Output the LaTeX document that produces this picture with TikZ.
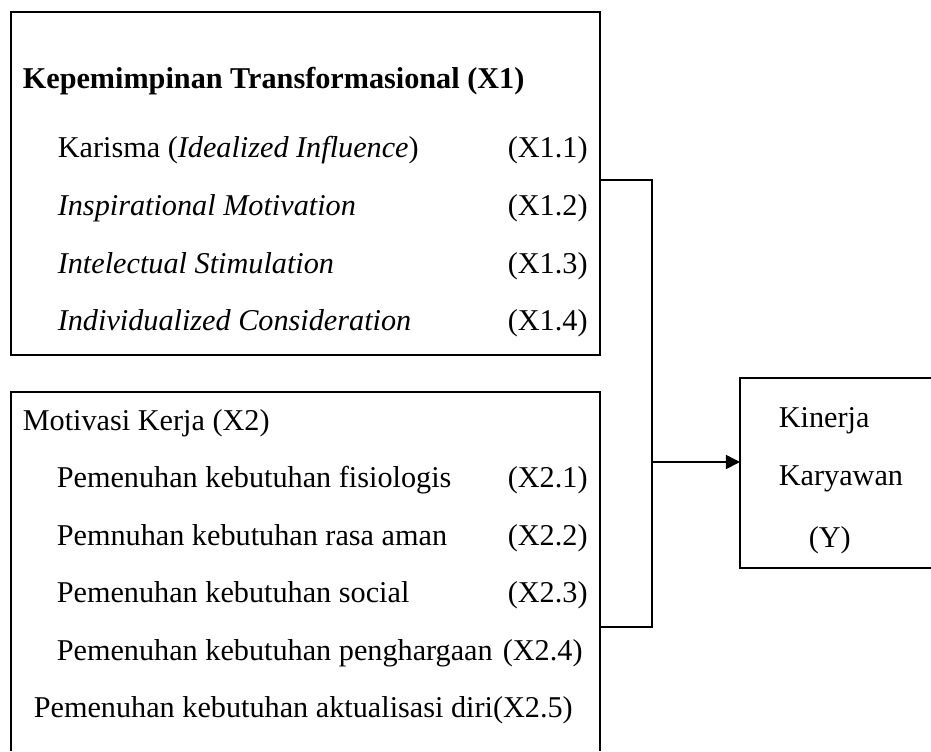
\documentclass[tikz,border=0pt]{standalone}
\usepackage{fontspec}
\setmainfont{Liberation Serif}
\usetikzlibrary{arrows.meta}

\begin{document}
\begin{tikzpicture}[x=0.015cm, y=-0.015cm, line width=0.7pt,
  lbl/.style={anchor=base west, inner sep=0pt, font=\fontsize{12.9}{15}\selectfont}]
\useasboundingbox (0,0) rectangle (931,751);
\def\cx{507}

% box X1
\coordinate (T1) at (11,12);
\coordinate (T2) at (600,12);
\coordinate (T3) at (600,355);
\coordinate (T4) at (11,355);
% box X2 (open at bottom)
\coordinate (M1) at (11,751);
\coordinate (M2) at (11,392);
\coordinate (M3) at (600,392);
\coordinate (M4) at (600,751);
% box Y (open at right)
\coordinate (K1) at (931,378);
\coordinate (K2) at (740,378);
\coordinate (K3) at (740,568);
\coordinate (K4) at (931,568);
% connector
\coordinate (J1) at (600,180);
\coordinate (J2) at (652,180);
\coordinate (J3) at (652,627);
\coordinate (J4) at (600,627);
\coordinate (J5) at (652,462);

\draw (T1) -- (T2) -- (T3) -- (T4) -- cycle;
\draw (M1) -- (M2) -- (M3) -- (M4);
\draw (K1) -- (K2) -- (K3) -- (K4);

\draw (J1) -- (J2) -- (J3) -- (J4);
\draw[-{Triangle[length=6pt, width=6pt]}] (J5) -- (K2 |- J5);

\node[lbl] (x1) at (22,88) {\textbf{Kepemimpinan Transformasional (X1)}};
\node[lbl] (x11) at (57,157) {Karisma (\textit{Idealized Influence})};
\node[lbl] (x12) at (57,215) {\textit{Inspirational Motivation}};
\node[lbl] (x13) at (57,273) {\textit{Intelectual Stimulation}};
\node[lbl] (x14) at (57,330) {\textit{Individualized Consideration}};
\node[lbl] (c11) at (\cx,157) {(X1.1)};
\node[lbl] (c12) at (\cx,215) {(X1.2)};
\node[lbl] (c13) at (\cx,273) {(X1.3)};
\node[lbl] (c14) at (\cx,330) {(X1.4)};

\node[lbl] (x2) at (22,430) {Motivasi Kerja (X2)};
\node[lbl] (x21) at (56,487) {Pemenuhan kebutuhan fisiologis};
\node[lbl] (x22) at (56,545) {Pemnuhan kebutuhan rasa aman};
\node[lbl] (x23) at (56,602) {Pemenuhan kebutuhan social};
\node[lbl] (x24) at (56,660) {Pemenuhan kebutuhan penghargaan};
\node[lbl] (c21) at (\cx,487) {(X2.1)};
\node[lbl] (c22) at (\cx,545) {(X2.2)};
\node[lbl] (c23) at (\cx,602) {(X2.3)};
\node[lbl] (c24) at (502,660) {(X2.4)};
\node[lbl] (x25) at (33,717) {Pemenuhan kebutuhan aktualisasi diri(X2.5)};

\node[lbl] (y1) at (778,427) {Kinerja};
\node[lbl] (y2) at (778,485) {Karyawan};
\node[lbl] (y3) at (808,547) {(Y)};
\end{tikzpicture}
\end{document}
